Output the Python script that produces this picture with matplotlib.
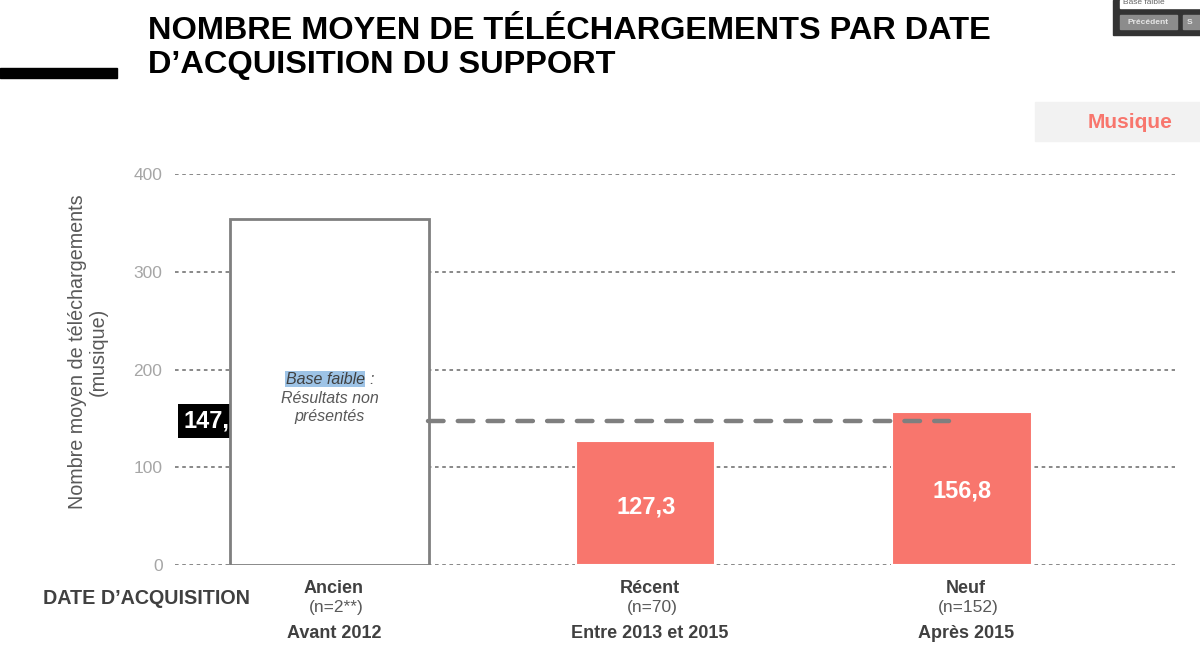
import matplotlib.pyplot as plt
from matplotlib.patches import Rectangle

plt.rcParams['font.family'] = ['Liberation Sans', 'DejaVu Sans']

categories = ["Ancien", "Récent", "Neuf"]
sample_sizes = ["(n=2**)", "(n=70)", "(n=152)"]
periods = ["Avant 2012", "Entre 2013 et 2015", "Après 2015"]
values = [None, 127.3, 156.8]
value_labels = ["", "127,3", "156,8"]
mean_value = 147.3
mean_label = "147,3"
low_base_height = 354
y_ticks = [0, 100, 200, 300, 400]

salmon = "#F8766D"
dark = "#404040"

fig = plt.figure(figsize=(12, 6.55), dpi=100)
ax = fig.add_axes([175 / 1200, 1 - 565 / 655, 1000 / 1200, (565 - 174) / 655])

xs = list(range(len(categories)))
ax.set_xlim(-0.49, 2.674)
ax.set_ylim(0, 400)

for y in y_ticks:
    ax.axhline(y, color="#7f7f7f", lw=1.3, ls=(0, (2, 2)), zorder=0)

# mean label box (partly hidden by the low-base box)
ax.text(-0.462, mean_value, mean_label, color="white", fontsize=17, fontweight="bold",
        ha="left", va="center", zorder=1,
        bbox=dict(facecolor="black", edgecolor="none", boxstyle="square,pad=0.25"))

# low base box for "Ancien"
ax.bar(xs[0], low_base_height, width=0.63, color="white", edgecolor="#7f7f7f",
       linewidth=2, zorder=3)
ax.text(xs[0] + 0.11, 190, "Base faible", fontsize=11.5, style="italic", color="#404040",
        ha="right", va="center", zorder=4,
        bbox=dict(facecolor="#9DC3E6", edgecolor="none", pad=0.5))
ax.text(xs[0] + 0.125, 190, ":", fontsize=11.5, style="italic", color="#595959",
        ha="left", va="center", zorder=4)
ax.text(xs[0], 161, "Résultats non\nprésentés", fontsize=11.5, style="italic",
        color="#595959", ha="center", va="center", linespacing=1.2, zorder=4)

for x, v, lab in zip(xs[1:], values[1:], value_labels[1:]):
    ax.bar(x, v, width=0.44, color=salmon, edgecolor="white", linewidth=1.5, zorder=2)
    ax.text(x, v * 0.47 if v < 140 else v * 0.48, lab, color="white", fontsize=17,
            fontweight="bold", ha="center", va="center", zorder=4)

ax.plot([0.31, 1.96], [mean_value, mean_value], color="#7f7f7f", lw=3.2,
        ls=(0, (3.5, 3.2)), dash_capstyle="round", zorder=5)

for s in ax.spines.values():
    s.set_visible(False)
ax.set_xticks([])
ax.set_yticks(y_ticks)
ax.tick_params(axis="y", length=0, pad=9, labelsize=12.5, labelcolor="#a6a6a6")

for x, c, n, p in zip(xs, categories, sample_sizes, periods):
    xl = x + 0.013
    ax.text(xl, -15, c, fontsize=13, fontweight="bold", color=dark, ha="center", va="top")
    ax.text(xl + 0.006, -36, n, fontsize=12.5, color="#595959", ha="center", va="top")
    ax.text(xl, -61, p, fontsize=13, fontweight="bold", color=dark, ha="center", va="top")

fig.text(43 / 1200, 1 - 598 / 655, "DATE D’ACQUISITION", fontsize=14.2, fontweight="bold",
         color=dark, ha="left", va="center")

fig.text(88 / 1200, 1 - 352 / 655, "Nombre moyen de téléchargements\n(musique)",
         rotation=90, fontsize=14.2, color="#595959", ha="center", va="center",
         linespacing=1.1)

# title
fig.text(148 / 1200, 1 - 48 / 655, "NOMBRE MOYEN DE TÉLÉCHARGEMENTS PAR DATE\nD’ACQUISITION DU SUPPORT",
         fontsize=23.4, fontweight="bold", color="black", ha="left", va="center",
         linespacing=1.15)
fig.patches.append(Rectangle((0, 1 - 78 / 655), 117 / 1200, 10 / 655,
                             transform=fig.transFigure, color="black"))

# "Musique" tag
fig.patches.append(Rectangle((1035 / 1200, 1 - 141 / 655), 165 / 1200, 39 / 655,
                             transform=fig.transFigure, color="#f2f2f2"))
fig.text(1130 / 1200, 1 - 122 / 655, "Musique", fontsize=15, fontweight="bold",
         color=salmon, ha="center", va="center")

# popup fragment at top-right
fig.patches.append(Rectangle((1113 / 1200, 1 - 35 / 655), 87 / 1200, 35 / 655,
                             transform=fig.transFigure, color="#333333"))
fig.patches.append(Rectangle((1120 / 1200, 1 - 8 / 655), 80 / 1200, 8 / 655,
                             transform=fig.transFigure, color="white"))
fig.text(1123 / 1200, 1 - 3 / 655, "Base faible", fontsize=6, color="#666666",
         ha="left", va="center")
fig.patches.append(Rectangle((1120 / 1200, 1 - 29 / 655), 57 / 1200, 14 / 655,
                             transform=fig.transFigure, color="#8c8c8c"))
fig.text(1148 / 1200, 1 - 22 / 655, "Précédent", fontsize=6, color="#e6e6e6",
         fontweight="bold", ha="center", va="center")
fig.patches.append(Rectangle((1183 / 1200, 1 - 29 / 655), 17 / 1200, 14 / 655,
                             transform=fig.transFigure, color="#8c8c8c"))
fig.text(1190 / 1200, 1 - 22 / 655, "S", fontsize=6, color="#e6e6e6",
         fontweight="bold", ha="center", va="center")

fig.savefig("out.png", dpi=100)
